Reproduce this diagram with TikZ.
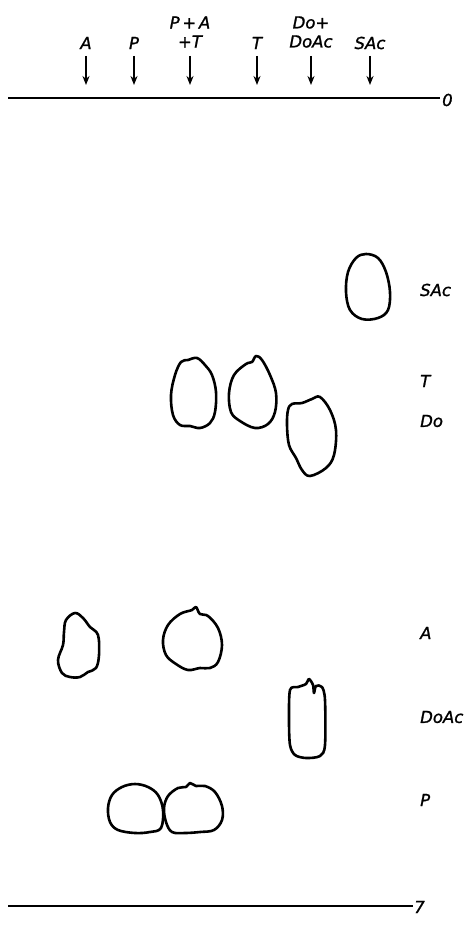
\documentclass[tikz,border=0pt]{standalone}
\usepackage{fontspec}
\setmainfont{DejaVu Sans}[ItalicFeatures={FakeBold=1.3}]
\usetikzlibrary{arrows.meta}
\begin{document}
\begin{tikzpicture}[x=1pt,y=-1pt,
  lbl/.style={font=\itshape\fontsize{16.5}{19}\selectfont, inner sep=0pt, align=center},
  rlbl/.style={lbl, anchor=west},
  arr/.style={line width=1.7pt, -{Stealth[length=9pt,width=7pt]}},
  baseline/.style={line width=2.2pt},
  spot/.style={line width=2.6pt, line join=round}]
\useasboundingbox (0,0) rectangle (470,925);
% top labels
\node[lbl] (tA) at (86,43) {A};
\node[lbl] (tP) at (134,43) {P};
\node[lbl] (tPAT) at (190,32) {P\,+\,A\\+T};
\node[lbl] (tT) at (257,43) {T};
\node[lbl] (tDo) at (311,32) {Do+\\DoAc};
\node[lbl] (tSAc) at (370,43) {SAc};
% arrows
\foreach \n/\x in {A/86,P/134,PAT/190,T/257,Do/311,SAc/370}{
  \coordinate (s\n) at (\x,56);
  \coordinate (e\n) at (\x,85);
  \draw[arr] (s\n) -- (e\n);
}
% origin and front lines
\coordinate (o1) at (8,98);
\coordinate (o2) at (440,98);
\draw[baseline] (o1) -- (o2);
\node[lbl, anchor=west] (zero) at (442,100) {0};
\coordinate (f1) at (8,906);
\coordinate (f2) at (413,906);
\draw[baseline] (f1) -- (f2);
\node[lbl, anchor=west] (seven) at (414,907) {7};
% right labels
\node[rlbl] (rSAc) at (420,290) {SAc};
\node[rlbl] (rT) at (420,381) {T};
\node[rlbl] (rDo) at (420,421) {Do};
\node[rlbl] (rA) at (420,633) {A};
\node[rlbl] (rDoAc) at (420,717) {DoAc};
\node[rlbl] (rP) at (420,800) {P};
% spots
\draw[spot] plot[smooth cycle, tension=0.6] coordinates {(356,258) (366,254) (378,258) (386,272) (390,292) (388,310) (378,318) (362,319) (350,310) (346,292) (348,272)};
\draw[spot] plot[smooth cycle, tension=0.6] coordinates {(181,362) (188,360) (197,358) (205,365) (212,375) (216,392) (215,412) (210,423) (200,428) (190,426) (180,425) (173,415) (171,395) (175,375)};
\draw[spot] plot[smooth cycle, tension=0.6] coordinates {(246,364) (252,362) (256,356) (262,360) (270,375) (276,393) (275,412) (268,424) (255,428) (240,421) (231,412) (229,393) (234,375)};
\draw[spot] plot[smooth cycle, tension=0.6] coordinates {(292,404) (302,403) (312,399) (320,397) (330,410) (336,430) (334,455) (326,468) (310,476) (302,470) (296,458) (289,445) (287,425) (288,410)};
\draw[spot] plot[smooth cycle, tension=0.6] coordinates {(66,620) (75,613) (83,618) (90,627) (98,635) (99,655) (96,668) (88,672) (80,677) (70,677) (62,673) (58,660) (63,645) (64,632)};
\draw[spot] plot[smooth cycle, tension=0.6] coordinates {(168,625) (180,614) (192,610) (196,607) (200,614) (208,616) (218,628) (222,645) (218,662) (210,668) (200,668) (188,670) (176,664) (166,655) (163,640)};
\draw[spot] plot[smooth cycle, tension=0.5] coordinates {(290,690) (298,687) (306,684) (309,679) (313,685) (314,693) (316,686) (322,687) (325,700) (325,745) (320,756) (306,758) (295,755) (290,745) (289,720)};
\draw[spot] plot[smooth cycle, tension=0.6] coordinates {(112,795) (122,787) (135,784) (148,787) (158,795) (163,810) (161,828) (150,832) (135,833) (118,830) (110,822) (108,808)};
\draw[spot] plot[smooth cycle, tension=0.6] coordinates {(168,796) (178,788) (186,787) (190,783) (196,786) (205,786) (215,792) (222,806) (222,820) (214,830) (200,832) (185,833) (172,832) (166,822) (164,808)};
\end{tikzpicture}
\end{document}
